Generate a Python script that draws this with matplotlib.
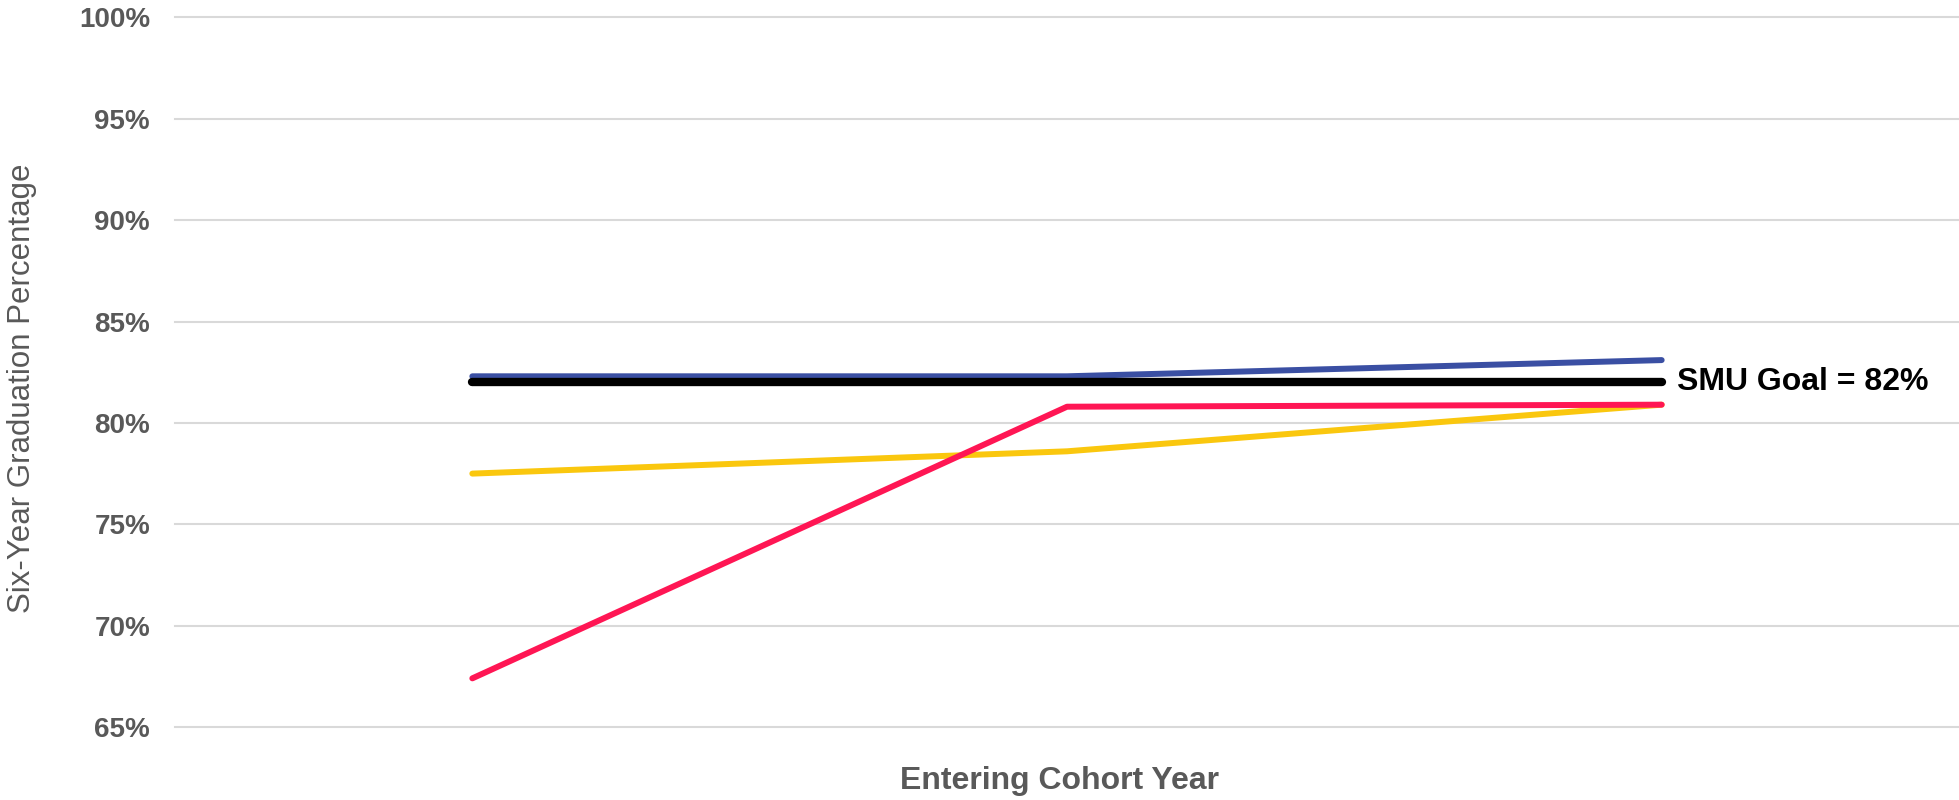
import matplotlib
matplotlib.use("Agg")
import matplotlib.pyplot as plt
from matplotlib.ticker import FixedLocator

cohorts = ["2016", "2017", "2018"]
blue_vals = [82.3, 82.3, 83.1]
yellow_vals = [77.5, 78.6, 80.9]
red_vals = [67.4, 80.8, 80.9]
goal_vals = [82.0, 82.0, 82.0]
yticks = [65, 70, 75, 80, 85, 90, 95, 100]
ytick_labels = [f"{v}%" for v in yticks]
goal_label = "SMU Goal = 82%"

sans = ["Liberation Sans", "DejaVu Sans"]

fig = plt.figure(figsize=(19.59, 8.0), dpi=100)
ax = fig.add_axes([175/1959, 1-727/800, 1-175/1959, (727-17.5)/800])

x = list(range(len(cohorts)))
ax.plot(x, blue_vals, color="#3A4FA3", lw=4.3, solid_capstyle="round", zorder=3)
ax.plot(x, yellow_vals, color="#FAC70E", lw=4.3, solid_capstyle="round", zorder=3)
ax.plot(x, red_vals, color="#FF1654", lw=4.3, solid_capstyle="round", zorder=4)
ax.plot(x, goal_vals, color="black", lw=6.0, solid_capstyle="round", zorder=5)

ax.text(x[-1] + 0.025, goal_vals[-1], goal_label, fontsize=23, fontweight="bold",
        family=sans, color="black", va="center", ha="left")

ax.set_xlim(-0.5, 2.5)
ax.set_ylim(65, 100)
ax.yaxis.set_major_locator(FixedLocator(yticks))
ax.set_yticklabels(ytick_labels, fontsize=20, fontweight="bold", color="#595959", family=sans)
ax.set_xticks([])
ax.tick_params(axis="y", length=0, pad=18)
for s in ax.spines.values():
    s.set_visible(False)
ax.grid(axis="y", color="#D9D9D9", lw=1.5, zorder=0)
ax.set_axisbelow(True)
for gl in ax.get_ygridlines():
    gl.set_clip_on(False)

fig.text(22/1959, 1-388/800, "Six-Year Graduation Percentage", rotation=90, fontsize=22.5,
         family=sans, color="#595959", ha="center", va="center")
fig.text(1060/1959, 1-781/800, "Entering Cohort Year", fontsize=23, fontweight="bold",
         family=sans, color="#595959", ha="center", va="center")

fig.savefig("out.png", dpi=100)
